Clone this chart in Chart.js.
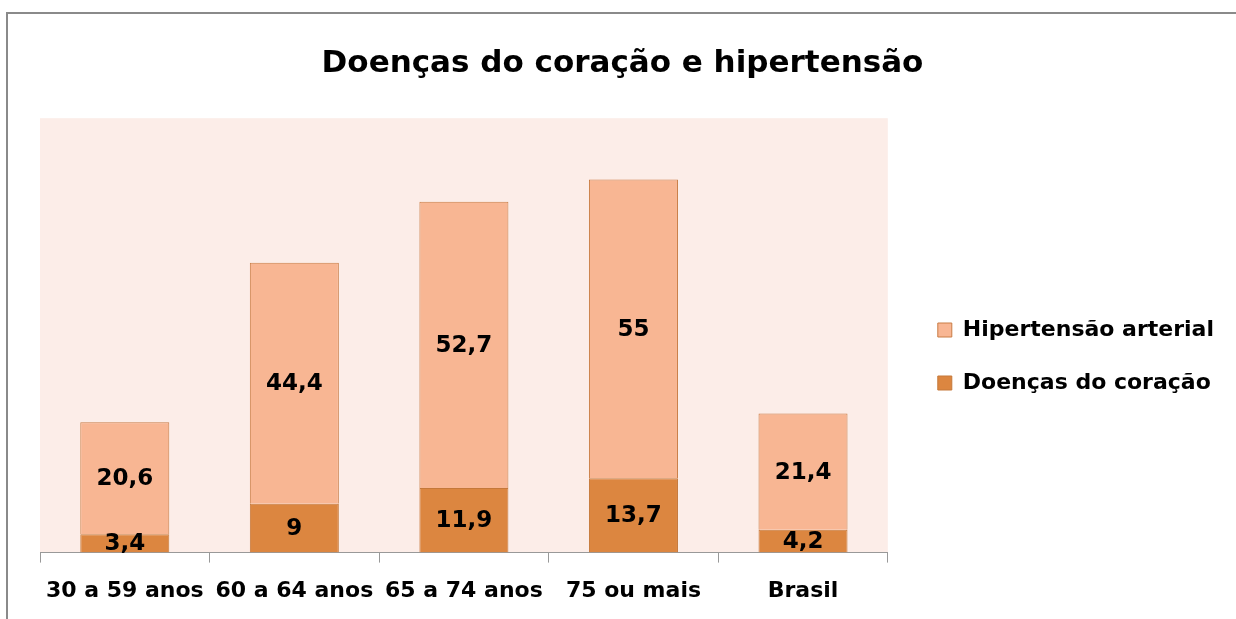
<!DOCTYPE html>
<html>
<head>
<meta charset="utf-8">
<script src="https://cdn.jsdelivr.net/npm/chart.js@4.4.1/dist/chart.umd.min.js"></script>
<style>
  body { margin: 0; background: #fff; }
  #wrap { position: relative; width: 1236px; height: 619px; }
  #frame { position: absolute; left: 6px; top: 12px; right: -10px; bottom: -10px;
           border-left: 2px solid #8a8a8a; border-top: 2px solid #8a8a8a; }
</style>
</head>
<body>
<div id="wrap">
  <div id="frame"></div>
  <canvas id="chart"></canvas>
</div>
<script>
const categories = ["30 a 59 anos", "60 a 64 anos", "65 a 74 anos", "75 ou mais", "Brasil"];
const doencasCoracao = [3.4, 9, 11.9, 13.7, 4.2];
const hipertensao = [20.6, 44.4, 52.7, 55, 21.4];

const fontFamily = "'DejaVu Sans', Verdana, sans-serif";

// fill the plot area with the pale pink background
const plotBackground = {
  id: "plotBackground",
  beforeDraw(chart) {
    const { ctx, chartArea } = chart;
    ctx.save();
    ctx.fillStyle = "#fcede8";
    ctx.fillRect(chartArea.left, chartArea.top,
      chartArea.right - chartArea.left, chartArea.bottom - chartArea.top);
    ctx.restore();
  },
};

// nudge the legend a bit away from the plot and lower, like the original
const legendShift = {
  id: "legendShift",
  afterLayout(chart) {
    const lg = chart.legend;
    lg.left += 19;
    lg.right += 19;
    lg.top += 32;
    lg.bottom += 32;
  },
};

// value labels in the middle of each bar segment
const barLabels = {
  id: "barLabels",
  afterDatasetsDraw(chart) {
    const ctx = chart.ctx;
    ctx.save();
    ctx.font = "bold 23px " + fontFamily;
    ctx.fillStyle = "#000";
    ctx.textAlign = "center";
    ctx.textBaseline = "middle";
    chart.data.datasets.forEach((ds, i) => {
      chart.getDatasetMeta(i).data.forEach((bar, j) => {
        const text = String(ds.data[j]).replace(".", ",");
        ctx.fillText(text, bar.x, (bar.y + bar.base) / 2 + 1);
      });
    });
    ctx.restore();
  },
};

new Chart(document.getElementById("chart").getContext("2d"), {
  type: "bar",
  data: {
    labels: categories,
    datasets: [
      {
        label: "Doenças do coração",
        data: doencasCoracao,
        backgroundColor: "#dc8640",
        borderColor: "#c5783a",
        borderWidth: 1,
        categoryPercentage: 1,
        barPercentage: 0.525,
      },
      {
        label: "Hipertensão arterial",
        data: hipertensao,
        backgroundColor: "#f8b693",
        borderColor: "#c97d45",
        borderWidth: 1,
        categoryPercentage: 1,
        barPercentage: 0.525,
      },
    ],
  },
  options: {
    responsive: true,
    maintainAspectRatio: false,
    animation: false,
    layout: {
      padding: { left: 40, right: 31, top: 30, bottom: 0 },
    },
    plugins: {
      title: {
        display: true,
        text: "Doenças do coração e hipertensão",
        color: "#000",
        font: { family: fontFamily, size: 31, weight: "bold" },
        padding: { top: 15, bottom: 36 },
      },
      legend: {
        position: "right",
        reverse: true,
        labels: {
          color: "#000",
          font: { family: fontFamily, size: 22, weight: "bold" },
          boxWidth: 14,
          boxHeight: 14,
          padding: 31,
        },
      },
      tooltip: { enabled: false },
    },
    scales: {
      x: {
        stacked: true,
        grid: {
          offset: true,
          drawOnChartArea: false,
          tickLength: 10,
          color: "#999",
        },
        border: { color: "#999" },
        ticks: {
          color: "#000",
          font: { family: fontFamily, size: 22, weight: "bold" },
          padding: 15,
        },
      },
      y: {
        stacked: true,
        display: false,
        min: 0,
        max: 80,
      },
    },
  },
  plugins: [plotBackground, legendShift, barLabels],
});
</script>
</body>
</html>
